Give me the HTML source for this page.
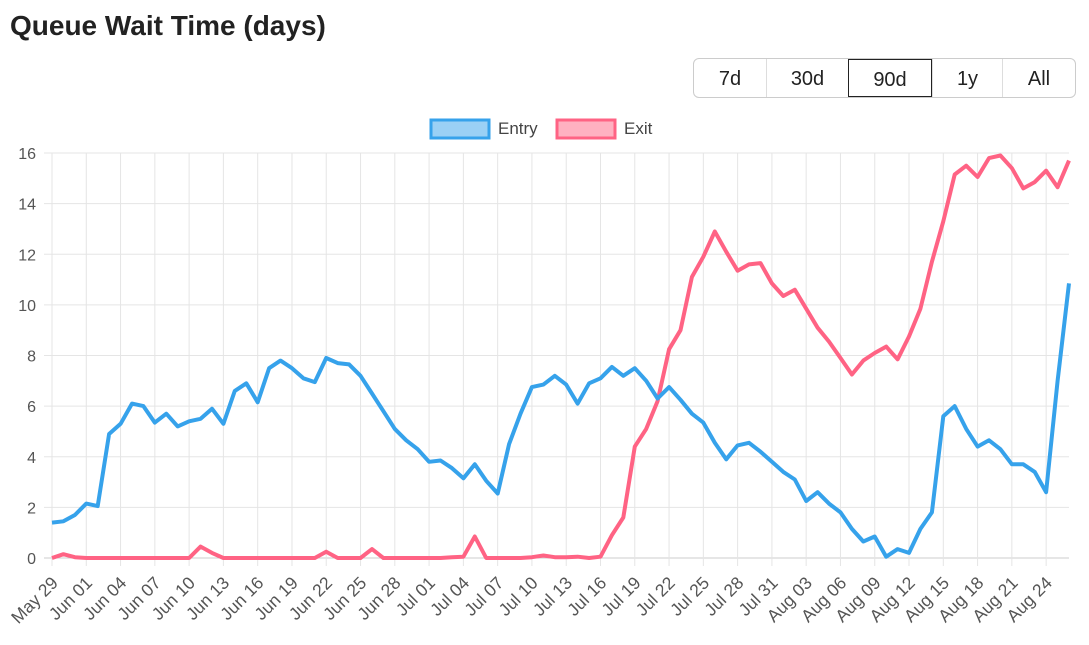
<!DOCTYPE html>
<html><head><meta charset="utf-8"><style>
body{margin:0;background:#fff;width:1089px;height:645px;overflow:hidden;font-family:"Liberation Sans",Arial,sans-serif;}
h1{position:absolute;left:10px;top:10px;margin:0;font-size:28px;font-weight:bold;color:#222;}
.grp{position:absolute;left:693px;top:58px;height:38px;display:flex;border:1px solid #ccc;border-radius:6px;}
.grp div{height:38px;line-height:40px;text-align:center;font-size:20px;color:#222;border-left:1px solid #ddd;box-sizing:border-box;}
.grp div:first-child{border-left:none}
.grp .a{border:1px solid #222;}
</style></head><body>
<h1>Queue Wait Time (days)</h1>
<div class="grp"><div style="width:72px">7d</div><div style="width:82px">30d</div><div class="a" style="width:84px">90d</div><div style="width:70px">1y</div><div style="width:73px">All</div></div>
<svg id="c" width="1089" height="645" style="position:absolute;left:0;top:0" font-family="Liberation Sans, Arial, sans-serif"></svg>
<script>
var E=[1.4,1.45,1.7,2.15,2.05,4.9,5.3,6.1,6.0,5.35,5.7,5.2,5.4,5.5,5.9,5.3,6.6,6.9,6.15,7.5,7.8,7.5,7.1,6.95,7.9,7.7,7.65,7.2,6.5,5.8,5.1,4.65,4.3,3.8,3.85,3.55,3.15,3.7,3.05,2.55,4.5,5.7,6.75,6.85,7.2,6.85,6.1,6.9,7.1,7.55,7.2,7.5,7.0,6.3,6.75,6.25,5.7,5.35,4.55,3.9,4.45,4.55,4.2,3.8,3.4,3.1,2.25,2.6,2.15,1.8,1.15,0.65,0.85,0.05,0.35,0.2,1.15,1.8,5.6,6.0,5.1,4.4,4.65,4.3,3.7,3.7,3.4,2.6,7.0,10.85];
var X=[0,0.15,0.03,0,0,0,0,0,0,0,0,0,0,0.45,0.2,0,0,0,0,0,0,0,0,0,0.25,0,0,0,0.35,0,0,0,0,0,0,0.03,0.05,0.85,0,0,0,0,0.03,0.1,0.03,0.03,0.05,0,0.05,0.9,1.6,4.4,5.1,6.2,8.25,9.0,11.1,11.9,12.9,12.1,11.35,11.6,11.65,10.85,10.35,10.6,9.85,9.1,8.55,7.9,7.25,7.8,8.1,8.35,7.85,8.75,9.85,11.7,13.3,15.15,15.5,15.05,15.8,15.9,15.4,14.6,14.85,15.3,14.65,15.7];
var x0=52,dx=(1069-52)/89,yb=558,sy=(558-153)/16,s='';
function px(i){return x0+i*dx}function py(v){return yb-v*sy}
for(var v=0;v<=16;v+=2){var y=py(v);s+='<line x1="44" x2="1069" y1="'+y+'" y2="'+y+'" stroke="'+(v?'#e5e5e5':'#ccc')+'"/>';s+='<text x="36" y="'+(y+6)+'" text-anchor="end" font-size="16" fill="#555">'+v+'</text>';}
var m=['May','Jun','Jul','Aug'],ml=[31,30,31,31],mi=0,d=29;
for(var i=0;i<90;i++){if(i%3==0){var x=px(i);s+='<line x1="'+x+'" x2="'+x+'" y1="153" y2="566" stroke="#e5e5e5"/>';s+='<text transform="translate('+(x+7)+',584) rotate(-45)" text-anchor="end" font-size="17.5" fill="#555">'+m[mi]+' '+(d<10?'0'+d:d)+'</text>';}d++;if(d>ml[mi]){d=1;mi++;}}
function pl(a,c){var p='';for(var i=0;i<a.length;i++)p+=(i?'L':'M')+px(i).toFixed(1)+','+py(a[i]).toFixed(1);return '<path d="'+p+'" fill="none" stroke="'+c+'" stroke-width="4" stroke-linejoin="round"/>';}
s+=pl(X,'#ff6384')+pl(E,'#36a2eb');
s+='<rect x="431" y="120" width="58" height="18" fill="#9ad0f5" stroke="#36a2eb" stroke-width="3"/><text x="498" y="134" font-size="17" fill="#444">Entry</text>';
s+='<rect x="557" y="120" width="58" height="18" fill="#ffb1c1" stroke="#ff6384" stroke-width="3"/><text x="624" y="134" font-size="17" fill="#444">Exit</text>';
document.getElementById('c').innerHTML=s;
</script>
</body></html>
